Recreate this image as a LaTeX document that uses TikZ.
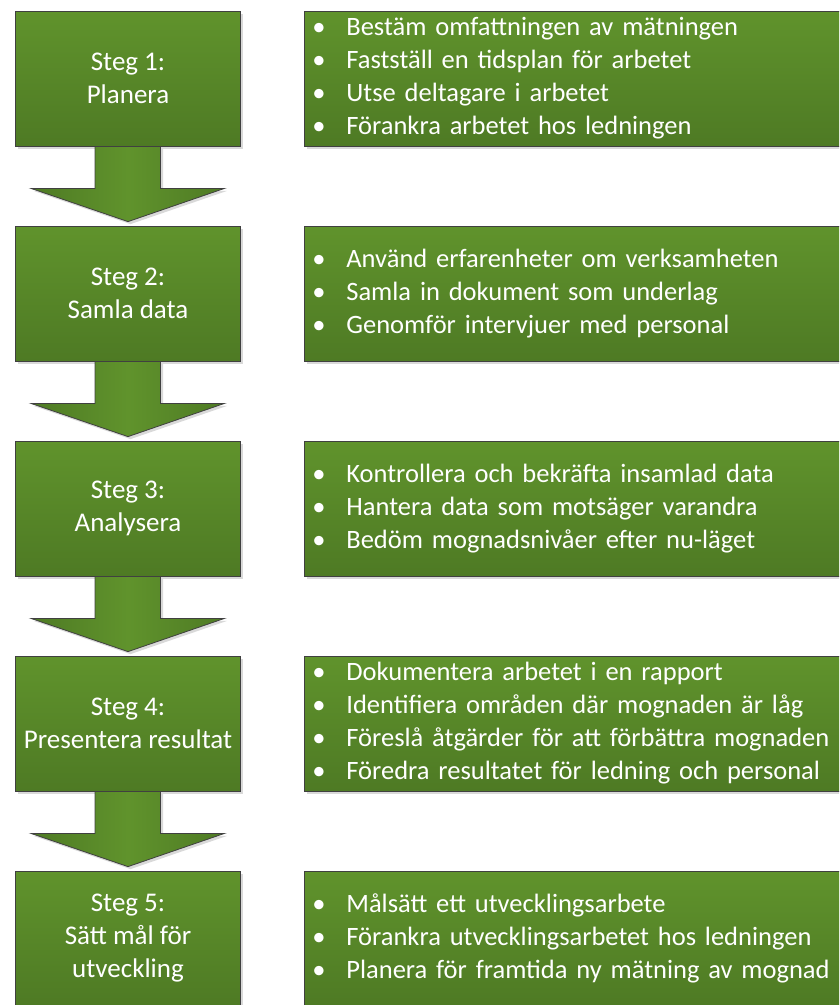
\documentclass[tikz,border=0pt]{standalone}
\usepackage{fontspec}
\setmainfont{Carlito}
\usetikzlibrary{calc,shadows}
\definecolor{gtop}{RGB}{96,147,44}
\definecolor{gbot}{RGB}{78,122,36}
\definecolor{edge}{RGB}{64,64,64}
\newcommand{\bl}[1]{\makebox[34pt][l]{\textbullet}#1}
\tikzset{
  base/.style={rectangle, draw=edge, line width=0.8pt, top color=gtop, bottom color=gbot,
    text=white, font=\fontsize{27}{33}\selectfont, inner sep=0pt,
    drop shadow={shadow xshift=2.5pt, shadow yshift=-2.5pt, fill=black!25, opacity=0.6}},
  stepbox/.style={base, minimum width=225.5pt, minimum height=135pt, align=center},
  infobox/.style={base, anchor=west, minimum height=135pt, text width=600pt, inner xsep=8pt, align=left,
    font=\fontsize{26.5}{33}\selectfont},
  downarrow/.style={draw=edge, line width=0.8pt, left color=gbot, right color=gbot, middle color=gtop,
    drop shadow={shadow xshift=2.5pt, shadow yshift=-2.5pt, fill=black!25, opacity=0.6}}
}
\begin{document}
\begin{tikzpicture}[x=1pt,y=-1pt]
\useasboundingbox (0,0) rectangle (839,1005);
\clip (0,0) rectangle (839,1005);
% left step boxes
\node[stepbox] (s1) at (128,78.5) {Steg 1:\\Planera};
\node[stepbox] (s2) at (128,293.5) {Steg 2:\\Samla data};
\node[stepbox] (s3) at (128,508.5) {Steg 3:\\Analysera};
\node[stepbox] (s4) at (128,723.5) {Steg 4:\\Presentera resultat};
\node[stepbox] (s5) at (128,938.5) {Steg 5:\\Sätt mål för\\utveckling};
% right info boxes
\node[infobox] (i1) at (304,78.5) {\bl{Bestäm omfattningen av mätningen}\\\bl{Fastställ en tidsplan för arbetet}\\\bl{Utse deltagare i arbetet}\\\bl{Förankra arbetet hos ledningen}};
\node[infobox] (i2) at (304,293.5) {\bl{Använd erfarenheter om verksamheten}\\\bl{Samla in dokument som underlag}\\\bl{Genomför intervjuer med personal}};
\node[infobox] (i3) at (304,508.5) {\bl{Kontrollera och bekräfta insamlad data}\\\bl{Hantera data som motsäger varandra}\\\bl{Bedöm mognadsnivåer efter nu-läget}};
\node[infobox] (i4) at (304,723.5) {\bl{Dokumentera arbetet i en rapport}\\\bl{Identifiera områden där mognaden är låg}\\\bl{Föreslå åtgärder för att förbättra mognaden}\\\bl{Föredra resultatet för ledning och personal}};
\node[infobox] (i5) at (304,938.5) {\bl{Målsätt ett utvecklingsarbete}\\\bl{Förankra utvecklingsarbetet hos ledningen}\\\bl{Planera för framtida ny mätning av mognad}};
% arrows between steps
\foreach \a/\b in {s1/s2,s2/s3,s3/s4,s4/s5}{
  \path[downarrow] ($(\a.south)+(-33,0)$) -- ($(\a.south)+(32.5,0)$) -- ($(\a.south)+(32.5,42)$)
    -- ($(\a.south)+(96.5,42)$) -- ($(\b.north)+(0,-4)$) -- ($(\a.south)+(-97,42)$)
    -- ($(\a.south)+(-33,42)$) -- cycle;
}
\end{tikzpicture}
\end{document}
